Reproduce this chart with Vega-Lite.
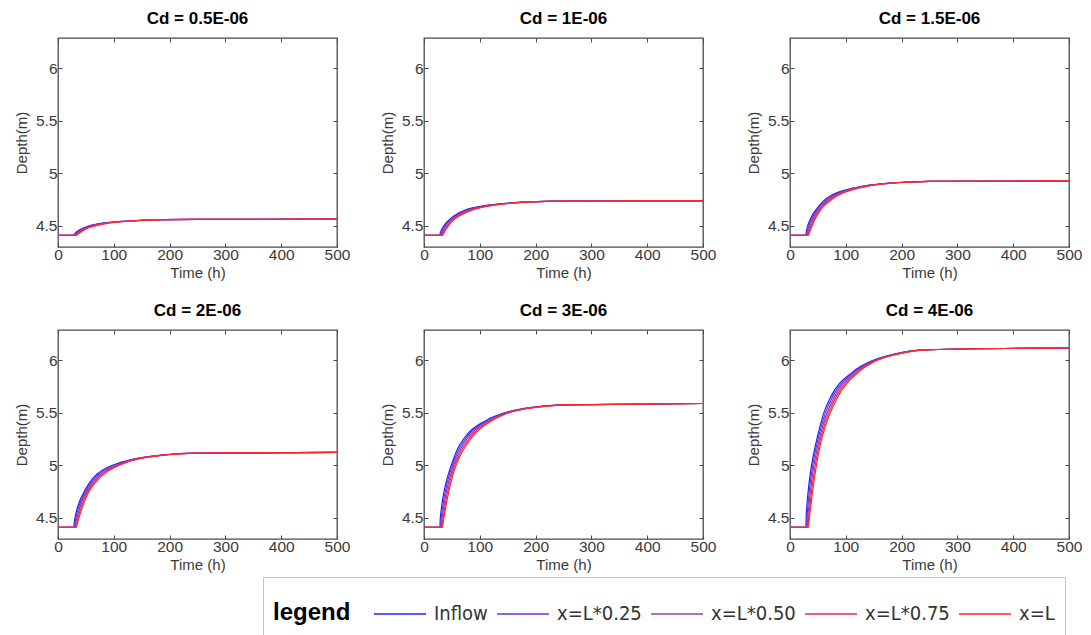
{
"$schema":"https://vega.github.io/schema/vega-lite/v6.json",
"background":"white",
"padding":{"left":13,"top":8,"right":5,"bottom":0},
"data":{"values":[
{"c":"Cd = 0.5E-06","s":"Inflow","t":0,"y":4.41},{"c":"Cd = 0.5E-06","s":"Inflow","t":28.5,"y":4.41},{"c":"Cd = 0.5E-06","s":"Inflow","t":29,"y":4.419},{"c":"Cd = 0.5E-06","s":"Inflow","t":30,"y":4.427},{"c":"Cd = 0.5E-06","s":"Inflow","t":32.5,"y":4.441},{"c":"Cd = 0.5E-06","s":"Inflow","t":38.5,"y":4.463},{"c":"Cd = 0.5E-06","s":"Inflow","t":46.5,"y":4.483},{"c":"Cd = 0.5E-06","s":"Inflow","t":53.5,"y":4.497},{"c":"Cd = 0.5E-06","s":"Inflow","t":60.5,"y":4.509},{"c":"Cd = 0.5E-06","s":"Inflow","t":73.5,"y":4.523},{"c":"Cd = 0.5E-06","s":"Inflow","t":112,"y":4.544},{"c":"Cd = 0.5E-06","s":"Inflow","t":145,"y":4.553},{"c":"Cd = 0.5E-06","s":"Inflow","t":186,"y":4.56},{"c":"Cd = 0.5E-06","s":"Inflow","t":248,"y":4.563},{"c":"Cd = 0.5E-06","s":"Inflow","t":500,"y":4.565},
{"c":"Cd = 0.5E-06","s":"x=L*0.25","t":0,"y":4.41},{"c":"Cd = 0.5E-06","s":"x=L*0.25","t":29.6,"y":4.41},{"c":"Cd = 0.5E-06","s":"x=L*0.25","t":30.5,"y":4.419},{"c":"Cd = 0.5E-06","s":"x=L*0.25","t":31.8,"y":4.427},{"c":"Cd = 0.5E-06","s":"x=L*0.25","t":34.5,"y":4.441},{"c":"Cd = 0.5E-06","s":"x=L*0.25","t":40.7,"y":4.463},{"c":"Cd = 0.5E-06","s":"x=L*0.25","t":48.6,"y":4.483},{"c":"Cd = 0.5E-06","s":"x=L*0.25","t":55.9,"y":4.497},{"c":"Cd = 0.5E-06","s":"x=L*0.25","t":63.4,"y":4.509},{"c":"Cd = 0.5E-06","s":"x=L*0.25","t":76.6,"y":4.523},{"c":"Cd = 0.5E-06","s":"x=L*0.25","t":114.8,"y":4.544},{"c":"Cd = 0.5E-06","s":"x=L*0.25","t":147,"y":4.553},{"c":"Cd = 0.5E-06","s":"x=L*0.25","t":187.8,"y":4.56},{"c":"Cd = 0.5E-06","s":"x=L*0.25","t":249.3,"y":4.563},{"c":"Cd = 0.5E-06","s":"x=L*0.25","t":500,"y":4.565},
{"c":"Cd = 0.5E-06","s":"x=L*0.50","t":0,"y":4.41},{"c":"Cd = 0.5E-06","s":"x=L*0.50","t":30.8,"y":4.41},{"c":"Cd = 0.5E-06","s":"x=L*0.50","t":32,"y":4.419},{"c":"Cd = 0.5E-06","s":"x=L*0.50","t":33.5,"y":4.427},{"c":"Cd = 0.5E-06","s":"x=L*0.50","t":36.5,"y":4.441},{"c":"Cd = 0.5E-06","s":"x=L*0.50","t":42.9,"y":4.463},{"c":"Cd = 0.5E-06","s":"x=L*0.50","t":50.8,"y":4.483},{"c":"Cd = 0.5E-06","s":"x=L*0.50","t":58.3,"y":4.497},{"c":"Cd = 0.5E-06","s":"x=L*0.50","t":66.3,"y":4.509},{"c":"Cd = 0.5E-06","s":"x=L*0.50","t":79.8,"y":4.523},{"c":"Cd = 0.5E-06","s":"x=L*0.50","t":117.5,"y":4.544},{"c":"Cd = 0.5E-06","s":"x=L*0.50","t":149,"y":4.553},{"c":"Cd = 0.5E-06","s":"x=L*0.50","t":189.5,"y":4.56},{"c":"Cd = 0.5E-06","s":"x=L*0.50","t":250.5,"y":4.563},{"c":"Cd = 0.5E-06","s":"x=L*0.50","t":500,"y":4.565},
{"c":"Cd = 0.5E-06","s":"x=L*0.75","t":0,"y":4.41},{"c":"Cd = 0.5E-06","s":"x=L*0.75","t":31.9,"y":4.41},{"c":"Cd = 0.5E-06","s":"x=L*0.75","t":33.5,"y":4.419},{"c":"Cd = 0.5E-06","s":"x=L*0.75","t":35.3,"y":4.427},{"c":"Cd = 0.5E-06","s":"x=L*0.75","t":38.5,"y":4.441},{"c":"Cd = 0.5E-06","s":"x=L*0.75","t":45.1,"y":4.463},{"c":"Cd = 0.5E-06","s":"x=L*0.75","t":52.9,"y":4.483},{"c":"Cd = 0.5E-06","s":"x=L*0.75","t":60.6,"y":4.497},{"c":"Cd = 0.5E-06","s":"x=L*0.75","t":69.1,"y":4.509},{"c":"Cd = 0.5E-06","s":"x=L*0.75","t":82.9,"y":4.523},{"c":"Cd = 0.5E-06","s":"x=L*0.75","t":120.3,"y":4.544},{"c":"Cd = 0.5E-06","s":"x=L*0.75","t":151,"y":4.553},{"c":"Cd = 0.5E-06","s":"x=L*0.75","t":191.3,"y":4.56},{"c":"Cd = 0.5E-06","s":"x=L*0.75","t":251.8,"y":4.563},{"c":"Cd = 0.5E-06","s":"x=L*0.75","t":500,"y":4.565},
{"c":"Cd = 0.5E-06","s":"x=L","t":0,"y":4.41},{"c":"Cd = 0.5E-06","s":"x=L","t":33,"y":4.41},{"c":"Cd = 0.5E-06","s":"x=L","t":35,"y":4.419},{"c":"Cd = 0.5E-06","s":"x=L","t":37,"y":4.427},{"c":"Cd = 0.5E-06","s":"x=L","t":40.5,"y":4.441},{"c":"Cd = 0.5E-06","s":"x=L","t":47.3,"y":4.463},{"c":"Cd = 0.5E-06","s":"x=L","t":55,"y":4.483},{"c":"Cd = 0.5E-06","s":"x=L","t":63,"y":4.497},{"c":"Cd = 0.5E-06","s":"x=L","t":72,"y":4.509},{"c":"Cd = 0.5E-06","s":"x=L","t":86,"y":4.523},{"c":"Cd = 0.5E-06","s":"x=L","t":123,"y":4.544},{"c":"Cd = 0.5E-06","s":"x=L","t":153,"y":4.553},{"c":"Cd = 0.5E-06","s":"x=L","t":193,"y":4.56},{"c":"Cd = 0.5E-06","s":"x=L","t":253,"y":4.563},{"c":"Cd = 0.5E-06","s":"x=L","t":500,"y":4.565},

{"c":"Cd = 1E-06","s":"Inflow","t":0,"y":4.41},{"c":"Cd = 1E-06","s":"Inflow","t":28.5,"y":4.41},{"c":"Cd = 1E-06","s":"Inflow","t":29,"y":4.43},{"c":"Cd = 1E-06","s":"Inflow","t":30,"y":4.446},{"c":"Cd = 1E-06","s":"Inflow","t":32.5,"y":4.476},{"c":"Cd = 1E-06","s":"Inflow","t":38.5,"y":4.524},{"c":"Cd = 1E-06","s":"Inflow","t":46.5,"y":4.565},{"c":"Cd = 1E-06","s":"Inflow","t":53.5,"y":4.595},{"c":"Cd = 1E-06","s":"Inflow","t":60.5,"y":4.62},{"c":"Cd = 1E-06","s":"Inflow","t":73.5,"y":4.651},{"c":"Cd = 1E-06","s":"Inflow","t":112,"y":4.696},{"c":"Cd = 1E-06","s":"Inflow","t":145,"y":4.715},{"c":"Cd = 1E-06","s":"Inflow","t":186,"y":4.729},{"c":"Cd = 1E-06","s":"Inflow","t":248,"y":4.737},{"c":"Cd = 1E-06","s":"Inflow","t":500,"y":4.74},
{"c":"Cd = 1E-06","s":"x=L*0.25","t":0,"y":4.41},{"c":"Cd = 1E-06","s":"x=L*0.25","t":29.6,"y":4.41},{"c":"Cd = 1E-06","s":"x=L*0.25","t":30.5,"y":4.43},{"c":"Cd = 1E-06","s":"x=L*0.25","t":31.8,"y":4.446},{"c":"Cd = 1E-06","s":"x=L*0.25","t":34.5,"y":4.476},{"c":"Cd = 1E-06","s":"x=L*0.25","t":40.7,"y":4.524},{"c":"Cd = 1E-06","s":"x=L*0.25","t":48.6,"y":4.565},{"c":"Cd = 1E-06","s":"x=L*0.25","t":55.9,"y":4.595},{"c":"Cd = 1E-06","s":"x=L*0.25","t":63.4,"y":4.62},{"c":"Cd = 1E-06","s":"x=L*0.25","t":76.6,"y":4.651},{"c":"Cd = 1E-06","s":"x=L*0.25","t":114.8,"y":4.696},{"c":"Cd = 1E-06","s":"x=L*0.25","t":147,"y":4.715},{"c":"Cd = 1E-06","s":"x=L*0.25","t":187.8,"y":4.729},{"c":"Cd = 1E-06","s":"x=L*0.25","t":249.3,"y":4.737},{"c":"Cd = 1E-06","s":"x=L*0.25","t":500,"y":4.74},
{"c":"Cd = 1E-06","s":"x=L*0.50","t":0,"y":4.41},{"c":"Cd = 1E-06","s":"x=L*0.50","t":30.8,"y":4.41},{"c":"Cd = 1E-06","s":"x=L*0.50","t":32,"y":4.43},{"c":"Cd = 1E-06","s":"x=L*0.50","t":33.5,"y":4.446},{"c":"Cd = 1E-06","s":"x=L*0.50","t":36.5,"y":4.476},{"c":"Cd = 1E-06","s":"x=L*0.50","t":42.9,"y":4.524},{"c":"Cd = 1E-06","s":"x=L*0.50","t":50.8,"y":4.565},{"c":"Cd = 1E-06","s":"x=L*0.50","t":58.3,"y":4.595},{"c":"Cd = 1E-06","s":"x=L*0.50","t":66.3,"y":4.62},{"c":"Cd = 1E-06","s":"x=L*0.50","t":79.8,"y":4.651},{"c":"Cd = 1E-06","s":"x=L*0.50","t":117.5,"y":4.696},{"c":"Cd = 1E-06","s":"x=L*0.50","t":149,"y":4.715},{"c":"Cd = 1E-06","s":"x=L*0.50","t":189.5,"y":4.729},{"c":"Cd = 1E-06","s":"x=L*0.50","t":250.5,"y":4.737},{"c":"Cd = 1E-06","s":"x=L*0.50","t":500,"y":4.74},
{"c":"Cd = 1E-06","s":"x=L*0.75","t":0,"y":4.41},{"c":"Cd = 1E-06","s":"x=L*0.75","t":31.9,"y":4.41},{"c":"Cd = 1E-06","s":"x=L*0.75","t":33.5,"y":4.43},{"c":"Cd = 1E-06","s":"x=L*0.75","t":35.3,"y":4.446},{"c":"Cd = 1E-06","s":"x=L*0.75","t":38.5,"y":4.476},{"c":"Cd = 1E-06","s":"x=L*0.75","t":45.1,"y":4.524},{"c":"Cd = 1E-06","s":"x=L*0.75","t":52.9,"y":4.565},{"c":"Cd = 1E-06","s":"x=L*0.75","t":60.6,"y":4.595},{"c":"Cd = 1E-06","s":"x=L*0.75","t":69.1,"y":4.62},{"c":"Cd = 1E-06","s":"x=L*0.75","t":82.9,"y":4.651},{"c":"Cd = 1E-06","s":"x=L*0.75","t":120.3,"y":4.696},{"c":"Cd = 1E-06","s":"x=L*0.75","t":151,"y":4.715},{"c":"Cd = 1E-06","s":"x=L*0.75","t":191.3,"y":4.729},{"c":"Cd = 1E-06","s":"x=L*0.75","t":251.8,"y":4.737},{"c":"Cd = 1E-06","s":"x=L*0.75","t":500,"y":4.74},
{"c":"Cd = 1E-06","s":"x=L","t":0,"y":4.41},{"c":"Cd = 1E-06","s":"x=L","t":33,"y":4.41},{"c":"Cd = 1E-06","s":"x=L","t":35,"y":4.43},{"c":"Cd = 1E-06","s":"x=L","t":37,"y":4.446},{"c":"Cd = 1E-06","s":"x=L","t":40.5,"y":4.476},{"c":"Cd = 1E-06","s":"x=L","t":47.3,"y":4.524},{"c":"Cd = 1E-06","s":"x=L","t":55,"y":4.565},{"c":"Cd = 1E-06","s":"x=L","t":63,"y":4.595},{"c":"Cd = 1E-06","s":"x=L","t":72,"y":4.62},{"c":"Cd = 1E-06","s":"x=L","t":86,"y":4.651},{"c":"Cd = 1E-06","s":"x=L","t":123,"y":4.696},{"c":"Cd = 1E-06","s":"x=L","t":153,"y":4.715},{"c":"Cd = 1E-06","s":"x=L","t":193,"y":4.729},{"c":"Cd = 1E-06","s":"x=L","t":253,"y":4.737},{"c":"Cd = 1E-06","s":"x=L","t":500,"y":4.74},

{"c":"Cd = 1.5E-06","s":"Inflow","t":0,"y":4.41},{"c":"Cd = 1.5E-06","s":"Inflow","t":28.5,"y":4.41},{"c":"Cd = 1.5E-06","s":"Inflow","t":29,"y":4.441},{"c":"Cd = 1.5E-06","s":"Inflow","t":30,"y":4.467},{"c":"Cd = 1.5E-06","s":"Inflow","t":32.5,"y":4.514},{"c":"Cd = 1.5E-06","s":"Inflow","t":38.5,"y":4.589},{"c":"Cd = 1.5E-06","s":"Inflow","t":46.5,"y":4.654},{"c":"Cd = 1.5E-06","s":"Inflow","t":53.5,"y":4.701},{"c":"Cd = 1.5E-06","s":"Inflow","t":60.5,"y":4.741},{"c":"Cd = 1.5E-06","s":"Inflow","t":73.5,"y":4.79},{"c":"Cd = 1.5E-06","s":"Inflow","t":112,"y":4.86},{"c":"Cd = 1.5E-06","s":"Inflow","t":145,"y":4.891},{"c":"Cd = 1.5E-06","s":"Inflow","t":186,"y":4.912},{"c":"Cd = 1.5E-06","s":"Inflow","t":248,"y":4.925},{"c":"Cd = 1.5E-06","s":"Inflow","t":500,"y":4.93},
{"c":"Cd = 1.5E-06","s":"x=L*0.25","t":0,"y":4.41},{"c":"Cd = 1.5E-06","s":"x=L*0.25","t":29.6,"y":4.41},{"c":"Cd = 1.5E-06","s":"x=L*0.25","t":30.5,"y":4.441},{"c":"Cd = 1.5E-06","s":"x=L*0.25","t":31.8,"y":4.467},{"c":"Cd = 1.5E-06","s":"x=L*0.25","t":34.5,"y":4.514},{"c":"Cd = 1.5E-06","s":"x=L*0.25","t":40.7,"y":4.589},{"c":"Cd = 1.5E-06","s":"x=L*0.25","t":48.6,"y":4.654},{"c":"Cd = 1.5E-06","s":"x=L*0.25","t":55.9,"y":4.701},{"c":"Cd = 1.5E-06","s":"x=L*0.25","t":63.4,"y":4.741},{"c":"Cd = 1.5E-06","s":"x=L*0.25","t":76.6,"y":4.79},{"c":"Cd = 1.5E-06","s":"x=L*0.25","t":114.8,"y":4.86},{"c":"Cd = 1.5E-06","s":"x=L*0.25","t":147,"y":4.891},{"c":"Cd = 1.5E-06","s":"x=L*0.25","t":187.8,"y":4.912},{"c":"Cd = 1.5E-06","s":"x=L*0.25","t":249.3,"y":4.925},{"c":"Cd = 1.5E-06","s":"x=L*0.25","t":500,"y":4.93},
{"c":"Cd = 1.5E-06","s":"x=L*0.50","t":0,"y":4.41},{"c":"Cd = 1.5E-06","s":"x=L*0.50","t":30.8,"y":4.41},{"c":"Cd = 1.5E-06","s":"x=L*0.50","t":32,"y":4.441},{"c":"Cd = 1.5E-06","s":"x=L*0.50","t":33.5,"y":4.467},{"c":"Cd = 1.5E-06","s":"x=L*0.50","t":36.5,"y":4.514},{"c":"Cd = 1.5E-06","s":"x=L*0.50","t":42.9,"y":4.589},{"c":"Cd = 1.5E-06","s":"x=L*0.50","t":50.8,"y":4.654},{"c":"Cd = 1.5E-06","s":"x=L*0.50","t":58.3,"y":4.701},{"c":"Cd = 1.5E-06","s":"x=L*0.50","t":66.3,"y":4.741},{"c":"Cd = 1.5E-06","s":"x=L*0.50","t":79.8,"y":4.79},{"c":"Cd = 1.5E-06","s":"x=L*0.50","t":117.5,"y":4.86},{"c":"Cd = 1.5E-06","s":"x=L*0.50","t":149,"y":4.891},{"c":"Cd = 1.5E-06","s":"x=L*0.50","t":189.5,"y":4.912},{"c":"Cd = 1.5E-06","s":"x=L*0.50","t":250.5,"y":4.925},{"c":"Cd = 1.5E-06","s":"x=L*0.50","t":500,"y":4.93},
{"c":"Cd = 1.5E-06","s":"x=L*0.75","t":0,"y":4.41},{"c":"Cd = 1.5E-06","s":"x=L*0.75","t":31.9,"y":4.41},{"c":"Cd = 1.5E-06","s":"x=L*0.75","t":33.5,"y":4.441},{"c":"Cd = 1.5E-06","s":"x=L*0.75","t":35.3,"y":4.467},{"c":"Cd = 1.5E-06","s":"x=L*0.75","t":38.5,"y":4.514},{"c":"Cd = 1.5E-06","s":"x=L*0.75","t":45.1,"y":4.589},{"c":"Cd = 1.5E-06","s":"x=L*0.75","t":52.9,"y":4.654},{"c":"Cd = 1.5E-06","s":"x=L*0.75","t":60.6,"y":4.701},{"c":"Cd = 1.5E-06","s":"x=L*0.75","t":69.1,"y":4.741},{"c":"Cd = 1.5E-06","s":"x=L*0.75","t":82.9,"y":4.79},{"c":"Cd = 1.5E-06","s":"x=L*0.75","t":120.3,"y":4.86},{"c":"Cd = 1.5E-06","s":"x=L*0.75","t":151,"y":4.891},{"c":"Cd = 1.5E-06","s":"x=L*0.75","t":191.3,"y":4.912},{"c":"Cd = 1.5E-06","s":"x=L*0.75","t":251.8,"y":4.925},{"c":"Cd = 1.5E-06","s":"x=L*0.75","t":500,"y":4.93},
{"c":"Cd = 1.5E-06","s":"x=L","t":0,"y":4.41},{"c":"Cd = 1.5E-06","s":"x=L","t":33,"y":4.41},{"c":"Cd = 1.5E-06","s":"x=L","t":35,"y":4.441},{"c":"Cd = 1.5E-06","s":"x=L","t":37,"y":4.467},{"c":"Cd = 1.5E-06","s":"x=L","t":40.5,"y":4.514},{"c":"Cd = 1.5E-06","s":"x=L","t":47.3,"y":4.589},{"c":"Cd = 1.5E-06","s":"x=L","t":55,"y":4.654},{"c":"Cd = 1.5E-06","s":"x=L","t":63,"y":4.701},{"c":"Cd = 1.5E-06","s":"x=L","t":72,"y":4.741},{"c":"Cd = 1.5E-06","s":"x=L","t":86,"y":4.79},{"c":"Cd = 1.5E-06","s":"x=L","t":123,"y":4.86},{"c":"Cd = 1.5E-06","s":"x=L","t":153,"y":4.891},{"c":"Cd = 1.5E-06","s":"x=L","t":193,"y":4.912},{"c":"Cd = 1.5E-06","s":"x=L","t":253,"y":4.925},{"c":"Cd = 1.5E-06","s":"x=L","t":500,"y":4.93},

{"c":"Cd = 2E-06","s":"Inflow","t":0,"y":4.41},{"c":"Cd = 2E-06","s":"Inflow","t":28.5,"y":4.41},{"c":"Cd = 2E-06","s":"Inflow","t":29,"y":4.453},{"c":"Cd = 2E-06","s":"Inflow","t":30,"y":4.489},{"c":"Cd = 2E-06","s":"Inflow","t":32.5,"y":4.553},{"c":"Cd = 2E-06","s":"Inflow","t":38.5,"y":4.657},{"c":"Cd = 2E-06","s":"Inflow","t":46.5,"y":4.746},{"c":"Cd = 2E-06","s":"Inflow","t":53.5,"y":4.81},{"c":"Cd = 2E-06","s":"Inflow","t":60.5,"y":4.866},{"c":"Cd = 2E-06","s":"Inflow","t":73.5,"y":4.932},{"c":"Cd = 2E-06","s":"Inflow","t":112,"y":5.029},{"c":"Cd = 2E-06","s":"Inflow","t":145,"y":5.071},{"c":"Cd = 2E-06","s":"Inflow","t":186,"y":5.1},{"c":"Cd = 2E-06","s":"Inflow","t":248,"y":5.118},{"c":"Cd = 2E-06","s":"Inflow","t":500,"y":5.125},
{"c":"Cd = 2E-06","s":"x=L*0.25","t":0,"y":4.41},{"c":"Cd = 2E-06","s":"x=L*0.25","t":29.6,"y":4.41},{"c":"Cd = 2E-06","s":"x=L*0.25","t":30.5,"y":4.453},{"c":"Cd = 2E-06","s":"x=L*0.25","t":31.8,"y":4.489},{"c":"Cd = 2E-06","s":"x=L*0.25","t":34.5,"y":4.553},{"c":"Cd = 2E-06","s":"x=L*0.25","t":40.7,"y":4.657},{"c":"Cd = 2E-06","s":"x=L*0.25","t":48.6,"y":4.746},{"c":"Cd = 2E-06","s":"x=L*0.25","t":55.9,"y":4.81},{"c":"Cd = 2E-06","s":"x=L*0.25","t":63.4,"y":4.866},{"c":"Cd = 2E-06","s":"x=L*0.25","t":76.6,"y":4.932},{"c":"Cd = 2E-06","s":"x=L*0.25","t":114.8,"y":5.029},{"c":"Cd = 2E-06","s":"x=L*0.25","t":147,"y":5.071},{"c":"Cd = 2E-06","s":"x=L*0.25","t":187.8,"y":5.1},{"c":"Cd = 2E-06","s":"x=L*0.25","t":249.3,"y":5.118},{"c":"Cd = 2E-06","s":"x=L*0.25","t":500,"y":5.125},
{"c":"Cd = 2E-06","s":"x=L*0.50","t":0,"y":4.41},{"c":"Cd = 2E-06","s":"x=L*0.50","t":30.8,"y":4.41},{"c":"Cd = 2E-06","s":"x=L*0.50","t":32,"y":4.453},{"c":"Cd = 2E-06","s":"x=L*0.50","t":33.5,"y":4.489},{"c":"Cd = 2E-06","s":"x=L*0.50","t":36.5,"y":4.553},{"c":"Cd = 2E-06","s":"x=L*0.50","t":42.9,"y":4.657},{"c":"Cd = 2E-06","s":"x=L*0.50","t":50.8,"y":4.746},{"c":"Cd = 2E-06","s":"x=L*0.50","t":58.3,"y":4.81},{"c":"Cd = 2E-06","s":"x=L*0.50","t":66.3,"y":4.866},{"c":"Cd = 2E-06","s":"x=L*0.50","t":79.8,"y":4.932},{"c":"Cd = 2E-06","s":"x=L*0.50","t":117.5,"y":5.029},{"c":"Cd = 2E-06","s":"x=L*0.50","t":149,"y":5.071},{"c":"Cd = 2E-06","s":"x=L*0.50","t":189.5,"y":5.1},{"c":"Cd = 2E-06","s":"x=L*0.50","t":250.5,"y":5.118},{"c":"Cd = 2E-06","s":"x=L*0.50","t":500,"y":5.125},
{"c":"Cd = 2E-06","s":"x=L*0.75","t":0,"y":4.41},{"c":"Cd = 2E-06","s":"x=L*0.75","t":31.9,"y":4.41},{"c":"Cd = 2E-06","s":"x=L*0.75","t":33.5,"y":4.453},{"c":"Cd = 2E-06","s":"x=L*0.75","t":35.3,"y":4.489},{"c":"Cd = 2E-06","s":"x=L*0.75","t":38.5,"y":4.553},{"c":"Cd = 2E-06","s":"x=L*0.75","t":45.1,"y":4.657},{"c":"Cd = 2E-06","s":"x=L*0.75","t":52.9,"y":4.746},{"c":"Cd = 2E-06","s":"x=L*0.75","t":60.6,"y":4.81},{"c":"Cd = 2E-06","s":"x=L*0.75","t":69.1,"y":4.866},{"c":"Cd = 2E-06","s":"x=L*0.75","t":82.9,"y":4.932},{"c":"Cd = 2E-06","s":"x=L*0.75","t":120.3,"y":5.029},{"c":"Cd = 2E-06","s":"x=L*0.75","t":151,"y":5.071},{"c":"Cd = 2E-06","s":"x=L*0.75","t":191.3,"y":5.1},{"c":"Cd = 2E-06","s":"x=L*0.75","t":251.8,"y":5.118},{"c":"Cd = 2E-06","s":"x=L*0.75","t":500,"y":5.125},
{"c":"Cd = 2E-06","s":"x=L","t":0,"y":4.41},{"c":"Cd = 2E-06","s":"x=L","t":33,"y":4.41},{"c":"Cd = 2E-06","s":"x=L","t":35,"y":4.453},{"c":"Cd = 2E-06","s":"x=L","t":37,"y":4.489},{"c":"Cd = 2E-06","s":"x=L","t":40.5,"y":4.553},{"c":"Cd = 2E-06","s":"x=L","t":47.3,"y":4.657},{"c":"Cd = 2E-06","s":"x=L","t":55,"y":4.746},{"c":"Cd = 2E-06","s":"x=L","t":63,"y":4.81},{"c":"Cd = 2E-06","s":"x=L","t":72,"y":4.866},{"c":"Cd = 2E-06","s":"x=L","t":86,"y":4.932},{"c":"Cd = 2E-06","s":"x=L","t":123,"y":5.029},{"c":"Cd = 2E-06","s":"x=L","t":153,"y":5.071},{"c":"Cd = 2E-06","s":"x=L","t":193,"y":5.1},{"c":"Cd = 2E-06","s":"x=L","t":253,"y":5.118},{"c":"Cd = 2E-06","s":"x=L","t":500,"y":5.125},

{"c":"Cd = 3E-06","s":"Inflow","t":0,"y":4.41},{"c":"Cd = 3E-06","s":"Inflow","t":28.5,"y":4.41},{"c":"Cd = 3E-06","s":"Inflow","t":29,"y":4.481},{"c":"Cd = 3E-06","s":"Inflow","t":30,"y":4.54},{"c":"Cd = 3E-06","s":"Inflow","t":32.5,"y":4.646},{"c":"Cd = 3E-06","s":"Inflow","t":38.5,"y":4.817},{"c":"Cd = 3E-06","s":"Inflow","t":46.5,"y":4.965},{"c":"Cd = 3E-06","s":"Inflow","t":53.5,"y":5.071},{"c":"Cd = 3E-06","s":"Inflow","t":60.5,"y":5.162},{"c":"Cd = 3E-06","s":"Inflow","t":73.5,"y":5.271},{"c":"Cd = 3E-06","s":"Inflow","t":112,"y":5.431},{"c":"Cd = 3E-06","s":"Inflow","t":145,"y":5.502},{"c":"Cd = 3E-06","s":"Inflow","t":186,"y":5.549},{"c":"Cd = 3E-06","s":"Inflow","t":248,"y":5.578},{"c":"Cd = 3E-06","s":"Inflow","t":500,"y":5.59},
{"c":"Cd = 3E-06","s":"x=L*0.25","t":0,"y":4.41},{"c":"Cd = 3E-06","s":"x=L*0.25","t":29.6,"y":4.41},{"c":"Cd = 3E-06","s":"x=L*0.25","t":30.5,"y":4.481},{"c":"Cd = 3E-06","s":"x=L*0.25","t":31.8,"y":4.54},{"c":"Cd = 3E-06","s":"x=L*0.25","t":34.5,"y":4.646},{"c":"Cd = 3E-06","s":"x=L*0.25","t":40.7,"y":4.817},{"c":"Cd = 3E-06","s":"x=L*0.25","t":48.6,"y":4.965},{"c":"Cd = 3E-06","s":"x=L*0.25","t":55.9,"y":5.071},{"c":"Cd = 3E-06","s":"x=L*0.25","t":63.4,"y":5.162},{"c":"Cd = 3E-06","s":"x=L*0.25","t":76.6,"y":5.271},{"c":"Cd = 3E-06","s":"x=L*0.25","t":114.8,"y":5.431},{"c":"Cd = 3E-06","s":"x=L*0.25","t":147,"y":5.502},{"c":"Cd = 3E-06","s":"x=L*0.25","t":187.8,"y":5.549},{"c":"Cd = 3E-06","s":"x=L*0.25","t":249.3,"y":5.578},{"c":"Cd = 3E-06","s":"x=L*0.25","t":500,"y":5.59},
{"c":"Cd = 3E-06","s":"x=L*0.50","t":0,"y":4.41},{"c":"Cd = 3E-06","s":"x=L*0.50","t":30.8,"y":4.41},{"c":"Cd = 3E-06","s":"x=L*0.50","t":32,"y":4.481},{"c":"Cd = 3E-06","s":"x=L*0.50","t":33.5,"y":4.54},{"c":"Cd = 3E-06","s":"x=L*0.50","t":36.5,"y":4.646},{"c":"Cd = 3E-06","s":"x=L*0.50","t":42.9,"y":4.817},{"c":"Cd = 3E-06","s":"x=L*0.50","t":50.8,"y":4.965},{"c":"Cd = 3E-06","s":"x=L*0.50","t":58.3,"y":5.071},{"c":"Cd = 3E-06","s":"x=L*0.50","t":66.3,"y":5.162},{"c":"Cd = 3E-06","s":"x=L*0.50","t":79.8,"y":5.271},{"c":"Cd = 3E-06","s":"x=L*0.50","t":117.5,"y":5.431},{"c":"Cd = 3E-06","s":"x=L*0.50","t":149,"y":5.502},{"c":"Cd = 3E-06","s":"x=L*0.50","t":189.5,"y":5.549},{"c":"Cd = 3E-06","s":"x=L*0.50","t":250.5,"y":5.578},{"c":"Cd = 3E-06","s":"x=L*0.50","t":500,"y":5.59},
{"c":"Cd = 3E-06","s":"x=L*0.75","t":0,"y":4.41},{"c":"Cd = 3E-06","s":"x=L*0.75","t":31.9,"y":4.41},{"c":"Cd = 3E-06","s":"x=L*0.75","t":33.5,"y":4.481},{"c":"Cd = 3E-06","s":"x=L*0.75","t":35.3,"y":4.54},{"c":"Cd = 3E-06","s":"x=L*0.75","t":38.5,"y":4.646},{"c":"Cd = 3E-06","s":"x=L*0.75","t":45.1,"y":4.817},{"c":"Cd = 3E-06","s":"x=L*0.75","t":52.9,"y":4.965},{"c":"Cd = 3E-06","s":"x=L*0.75","t":60.6,"y":5.071},{"c":"Cd = 3E-06","s":"x=L*0.75","t":69.1,"y":5.162},{"c":"Cd = 3E-06","s":"x=L*0.75","t":82.9,"y":5.271},{"c":"Cd = 3E-06","s":"x=L*0.75","t":120.3,"y":5.431},{"c":"Cd = 3E-06","s":"x=L*0.75","t":151,"y":5.502},{"c":"Cd = 3E-06","s":"x=L*0.75","t":191.3,"y":5.549},{"c":"Cd = 3E-06","s":"x=L*0.75","t":251.8,"y":5.578},{"c":"Cd = 3E-06","s":"x=L*0.75","t":500,"y":5.59},
{"c":"Cd = 3E-06","s":"x=L","t":0,"y":4.41},{"c":"Cd = 3E-06","s":"x=L","t":33,"y":4.41},{"c":"Cd = 3E-06","s":"x=L","t":35,"y":4.481},{"c":"Cd = 3E-06","s":"x=L","t":37,"y":4.54},{"c":"Cd = 3E-06","s":"x=L","t":40.5,"y":4.646},{"c":"Cd = 3E-06","s":"x=L","t":47.3,"y":4.817},{"c":"Cd = 3E-06","s":"x=L","t":55,"y":4.965},{"c":"Cd = 3E-06","s":"x=L","t":63,"y":5.071},{"c":"Cd = 3E-06","s":"x=L","t":72,"y":5.162},{"c":"Cd = 3E-06","s":"x=L","t":86,"y":5.271},{"c":"Cd = 3E-06","s":"x=L","t":123,"y":5.431},{"c":"Cd = 3E-06","s":"x=L","t":153,"y":5.502},{"c":"Cd = 3E-06","s":"x=L","t":193,"y":5.549},{"c":"Cd = 3E-06","s":"x=L","t":253,"y":5.578},{"c":"Cd = 3E-06","s":"x=L","t":500,"y":5.59},

{"c":"Cd = 4E-06","s":"Inflow","t":0,"y":4.41},{"c":"Cd = 4E-06","s":"Inflow","t":28.5,"y":4.41},{"c":"Cd = 4E-06","s":"Inflow","t":29,"y":4.513},{"c":"Cd = 4E-06","s":"Inflow","t":30,"y":4.598},{"c":"Cd = 4E-06","s":"Inflow","t":32.5,"y":4.752},{"c":"Cd = 4E-06","s":"Inflow","t":38.5,"y":5.0},{"c":"Cd = 4E-06","s":"Inflow","t":46.5,"y":5.214},{"c":"Cd = 4E-06","s":"Inflow","t":53.5,"y":5.368},{"c":"Cd = 4E-06","s":"Inflow","t":60.5,"y":5.499},{"c":"Cd = 4E-06","s":"Inflow","t":73.5,"y":5.658},{"c":"Cd = 4E-06","s":"Inflow","t":112,"y":5.889},{"c":"Cd = 4E-06","s":"Inflow","t":145,"y":5.992},{"c":"Cd = 4E-06","s":"Inflow","t":186,"y":6.06},{"c":"Cd = 4E-06","s":"Inflow","t":248,"y":6.103},{"c":"Cd = 4E-06","s":"Inflow","t":500,"y":6.12},
{"c":"Cd = 4E-06","s":"x=L*0.25","t":0,"y":4.41},{"c":"Cd = 4E-06","s":"x=L*0.25","t":29.6,"y":4.41},{"c":"Cd = 4E-06","s":"x=L*0.25","t":30.5,"y":4.513},{"c":"Cd = 4E-06","s":"x=L*0.25","t":31.8,"y":4.598},{"c":"Cd = 4E-06","s":"x=L*0.25","t":34.5,"y":4.752},{"c":"Cd = 4E-06","s":"x=L*0.25","t":40.7,"y":5.0},{"c":"Cd = 4E-06","s":"x=L*0.25","t":48.6,"y":5.214},{"c":"Cd = 4E-06","s":"x=L*0.25","t":55.9,"y":5.368},{"c":"Cd = 4E-06","s":"x=L*0.25","t":63.4,"y":5.499},{"c":"Cd = 4E-06","s":"x=L*0.25","t":76.6,"y":5.658},{"c":"Cd = 4E-06","s":"x=L*0.25","t":114.8,"y":5.889},{"c":"Cd = 4E-06","s":"x=L*0.25","t":147,"y":5.992},{"c":"Cd = 4E-06","s":"x=L*0.25","t":187.8,"y":6.06},{"c":"Cd = 4E-06","s":"x=L*0.25","t":249.3,"y":6.103},{"c":"Cd = 4E-06","s":"x=L*0.25","t":500,"y":6.12},
{"c":"Cd = 4E-06","s":"x=L*0.50","t":0,"y":4.41},{"c":"Cd = 4E-06","s":"x=L*0.50","t":30.8,"y":4.41},{"c":"Cd = 4E-06","s":"x=L*0.50","t":32,"y":4.513},{"c":"Cd = 4E-06","s":"x=L*0.50","t":33.5,"y":4.598},{"c":"Cd = 4E-06","s":"x=L*0.50","t":36.5,"y":4.752},{"c":"Cd = 4E-06","s":"x=L*0.50","t":42.9,"y":5.0},{"c":"Cd = 4E-06","s":"x=L*0.50","t":50.8,"y":5.214},{"c":"Cd = 4E-06","s":"x=L*0.50","t":58.3,"y":5.368},{"c":"Cd = 4E-06","s":"x=L*0.50","t":66.3,"y":5.499},{"c":"Cd = 4E-06","s":"x=L*0.50","t":79.8,"y":5.658},{"c":"Cd = 4E-06","s":"x=L*0.50","t":117.5,"y":5.889},{"c":"Cd = 4E-06","s":"x=L*0.50","t":149,"y":5.992},{"c":"Cd = 4E-06","s":"x=L*0.50","t":189.5,"y":6.06},{"c":"Cd = 4E-06","s":"x=L*0.50","t":250.5,"y":6.103},{"c":"Cd = 4E-06","s":"x=L*0.50","t":500,"y":6.12},
{"c":"Cd = 4E-06","s":"x=L*0.75","t":0,"y":4.41},{"c":"Cd = 4E-06","s":"x=L*0.75","t":31.9,"y":4.41},{"c":"Cd = 4E-06","s":"x=L*0.75","t":33.5,"y":4.513},{"c":"Cd = 4E-06","s":"x=L*0.75","t":35.3,"y":4.598},{"c":"Cd = 4E-06","s":"x=L*0.75","t":38.5,"y":4.752},{"c":"Cd = 4E-06","s":"x=L*0.75","t":45.1,"y":5.0},{"c":"Cd = 4E-06","s":"x=L*0.75","t":52.9,"y":5.214},{"c":"Cd = 4E-06","s":"x=L*0.75","t":60.6,"y":5.368},{"c":"Cd = 4E-06","s":"x=L*0.75","t":69.1,"y":5.499},{"c":"Cd = 4E-06","s":"x=L*0.75","t":82.9,"y":5.658},{"c":"Cd = 4E-06","s":"x=L*0.75","t":120.3,"y":5.889},{"c":"Cd = 4E-06","s":"x=L*0.75","t":151,"y":5.992},{"c":"Cd = 4E-06","s":"x=L*0.75","t":191.3,"y":6.06},{"c":"Cd = 4E-06","s":"x=L*0.75","t":251.8,"y":6.103},{"c":"Cd = 4E-06","s":"x=L*0.75","t":500,"y":6.12},
{"c":"Cd = 4E-06","s":"x=L","t":0,"y":4.41},{"c":"Cd = 4E-06","s":"x=L","t":33,"y":4.41},{"c":"Cd = 4E-06","s":"x=L","t":35,"y":4.513},{"c":"Cd = 4E-06","s":"x=L","t":37,"y":4.598},{"c":"Cd = 4E-06","s":"x=L","t":40.5,"y":4.752},{"c":"Cd = 4E-06","s":"x=L","t":47.3,"y":5.0},{"c":"Cd = 4E-06","s":"x=L","t":55,"y":5.214},{"c":"Cd = 4E-06","s":"x=L","t":63,"y":5.368},{"c":"Cd = 4E-06","s":"x=L","t":72,"y":5.499},{"c":"Cd = 4E-06","s":"x=L","t":86,"y":5.658},{"c":"Cd = 4E-06","s":"x=L","t":123,"y":5.889},{"c":"Cd = 4E-06","s":"x=L","t":153,"y":5.992},{"c":"Cd = 4E-06","s":"x=L","t":193,"y":6.06},{"c":"Cd = 4E-06","s":"x=L","t":253,"y":6.103},{"c":"Cd = 4E-06","s":"x=L","t":500,"y":6.12}
]},
"facet":{"field":"c","type":"nominal","sort":["Cd = 0.5E-06","Cd = 1E-06","Cd = 1.5E-06","Cd = 2E-06","Cd = 3E-06","Cd = 4E-06"],
  "header":{"title":null,"labelFont":"Liberation Sans","labelFontSize":17,"labelFontWeight":"bold","labelColor":"#000000","labelPadding":10}},
"columns":3,
"bounds":"flush",
"spacing":{"row":83,"column":87},
"resolve":{"axis":{"x":"independent","y":"independent"}},
"spec":{
  "width":279,"height":209,
  "layer":[
    {"mark":{"type":"line","strokeWidth":1.2,"interpolate":"monotone","clip":true},
     "encoding":{
       "x":{"field":"t","type":"quantitative","scale":{"domain":[0,500],"nice":false},
            "axis":{"orient":"bottom","values":[0,100,200,300,400,500],"title":"Time (h)","labelPadding":4,"titlePadding":3}},
       "y":{"field":"y","type":"quantitative","scale":{"domain":[4.3,6.29],"nice":false,"zero":false},
            "axis":{"orient":"left","values":[4.5,5,5.5,6],"format":"~g","title":"Depth(m)","labelPadding":5,"titlePadding":6}},
       "color":{"field":"s","type":"nominal",
          "scale":{"domain":["Inflow","x=L*0.25","x=L*0.50","x=L*0.75","x=L"],"range":["#2020ff","#6a30e0","#a038b0","#e0305c","#ff2828"]},
          "legend":{"orient":"none","legendX":205,"legendY":539,"direction":"horizontal","title":"legend","titleOrient":"left",
             "titleAnchor":"middle","titleBaseline":"line-top","titleLineHeight":14,
             "titleFont":"Liberation Sans","titleFontSize":24,"titleFontWeight":"bold","titleColor":"#000000","titlePadding":22,
             "labelFont":"DejaVu Sans Condensed","labelFontSize":20,"labelColor":"#333333","labelOffset":7,"columnPadding":6,
             "symbolType":"stroke","symbolSize":2704,"symbolStrokeWidth":1.5,"padding":10,"strokeColor":"#c4c4c4","labelLimit":0}}
     }},
    {"mark":{"type":"point","opacity":0},
     "encoding":{
       "x":{"field":"t","type":"quantitative","axis":{"orient":"top","values":[0,100,200,300,400,500],"labels":false,"title":null}},
       "y":{"field":"y","type":"quantitative","axis":{"orient":"right","values":[4.5,5,5.5,6],"labels":false,"title":null}}
     }}
  ],
  "resolve":{"axis":{"x":"independent","y":"independent"}}
},
"config":{
  "view":{"stroke":"#4a4a4a","strokeWidth":1.3},
  "axis":{"domain":false,"grid":false,"ticks":true,"tickSize":-4,"tickColor":"#4a4a4a","tickWidth":1,
          "labelFont":"Liberation Sans","labelFontSize":15.5,"labelColor":"#3a3a3a","labelFlush":false,
          "titleFont":"Liberation Sans","titleFontSize":15,"titleFontWeight":"normal","titleColor":"#3a3a3a"}
}
}
